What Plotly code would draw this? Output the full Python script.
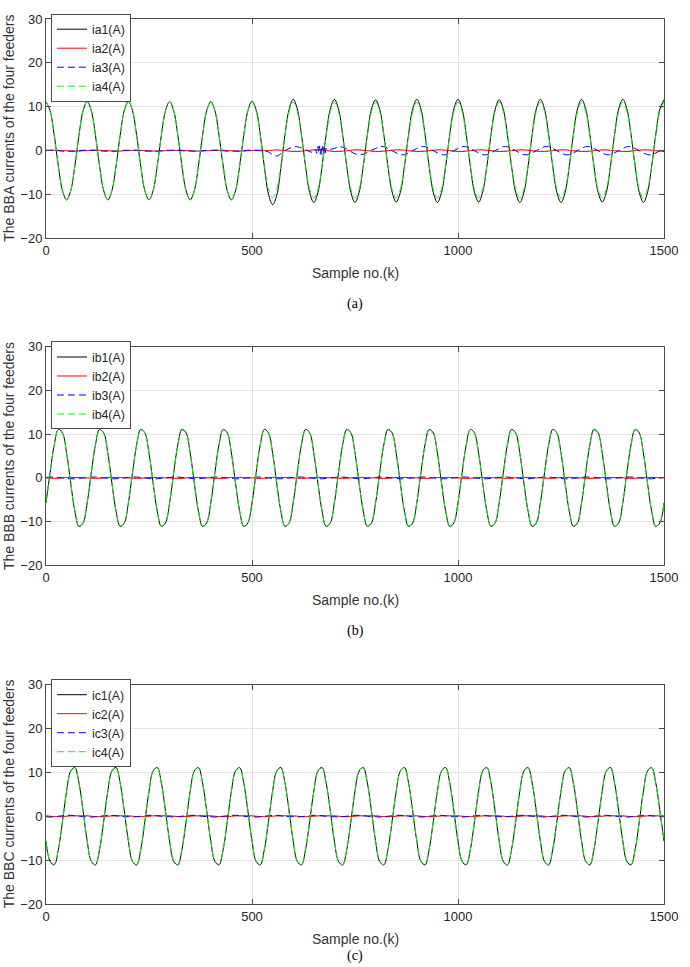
import plotly.graph_objects as go

# sample index (every 10th sample)
sample_k = list(range(0, 1501, 10))

# ---------------- panel (a) : BBA ----------------
ia1 = [
    11.2, 9.1, 3.5, -3.5, -9.1, -11.2, -9.1, -3.5, 3.5, 9.1,
    11.2, 9.1, 3.5, -3.5, -9.1, -11.2, -9.1, -3.5, 3.5, 9.1,
    11.2, 9.1, 3.5, -3.5, -9.1, -11.2, -9.1, -3.5, 3.5, 9.1,
    11.2, 9.1, 3.5, -3.5, -9.1, -11.2, -9.1, -3.5, 3.5, 9.1,
    11.2, 9.1, 3.5, -3.5, -9.1, -11.2, -9.1, -3.5, 3.5, 9.1,
    11.3, 9.3, 3.8, -3.7, -9.9, -12.3, -10.2, -4.0, 3.6, 9.4,
    11.7, 9.5, 3.7, -3.6, -9.5, -11.8, -9.5, -3.6, 3.7, 9.5,
    11.7, 9.5, 3.7, -3.6, -9.5, -11.8, -9.5, -3.6, 3.7, 9.5,
    11.6, 9.4, 3.6, -3.6, -9.4, -11.7, -9.5, -3.6, 3.7, 9.5,
    11.7, 9.5, 3.7, -3.6, -9.5, -11.8, -9.5, -3.6, 3.7, 9.5,
    11.7, 9.5, 3.7, -3.6, -9.5, -11.7, -9.4, -3.6, 3.6, 9.4,
    11.6, 9.4, 3.6, -3.6, -9.5, -11.8, -9.5, -3.6, 3.7, 9.5,
    11.7, 9.5, 3.7, -3.6, -9.5, -11.8, -9.5, -3.6, 3.7, 9.5,
    11.7, 9.5, 3.7, -3.6, -9.4, -11.7, -9.5, -3.6, 3.7, 9.5,
    11.7, 9.5, 3.7, -3.6, -9.5, -11.8, -9.5, -3.6, 3.7, 9.5,
    11.6,
]
ia2 = [
    0.0, 0.1, 0.1, 0.1, 0.0, 0.0, -0.1, -0.1, -0.1, 0.0,
    0.0, 0.1, 0.1, 0.1, 0.0, 0.0, -0.1, -0.1, -0.1, 0.0,
    0.0, 0.1, 0.1, 0.1, 0.0, 0.0, -0.1, -0.1, -0.1, 0.0,
    0.0, 0.1, 0.1, 0.1, 0.0, 0.0, -0.1, -0.1, -0.1, 0.0,
    0.0, 0.1, 0.1, 0.1, 0.0, 0.0, -0.1, -0.1, -0.1, 0.0,
    0.0, 0.1, 0.1, 0.1, 0.0, 0.1, 0.2, 0.1, 0.0, -0.1,
    -0.2, -0.2, -0.1, 0.0, 0.1, 0.2, 0.2, 0.1, 0.0, -0.1,
    -0.2, -0.2, -0.1, 0.0, 0.1, 0.2, 0.2, 0.1, 0.0, -0.1,
    -0.2, -0.2, -0.1, 0.0, 0.1, 0.2, 0.2, 0.1, 0.0, -0.1,
    -0.2, -0.2, -0.1, 0.0, 0.1, 0.2, 0.2, 0.1, 0.0, -0.1,
    -0.2, -0.2, -0.1, 0.0, 0.1, 0.2, 0.2, 0.1, 0.0, -0.1,
    -0.2, -0.2, -0.1, 0.0, 0.1, 0.2, 0.2, 0.1, 0.0, -0.1,
    -0.2, -0.2, -0.1, 0.0, 0.1, 0.2, 0.2, 0.1, 0.0, -0.1,
    -0.2, -0.2, -0.1, 0.0, 0.1, 0.2, 0.2, 0.1, 0.0, -0.1,
    -0.2, -0.2, -0.1, 0.0, 0.1, 0.2, 0.2, 0.1, 0.0, -0.1,
    -0.2,
]
ia3 = [
    0.1, 0.1, 0.1, 0.0, -0.1, -0.1, -0.1, -0.1, 0.0, 0.1,
    0.1, 0.1, 0.1, 0.0, -0.1, -0.1, -0.1, -0.1, 0.0, 0.1,
    0.1, 0.1, 0.1, 0.0, -0.1, -0.1, -0.1, -0.1, 0.0, 0.1,
    0.1, 0.1, 0.1, 0.0, -0.1, -0.1, -0.1, -0.1, 0.0, 0.1,
    0.1, 0.1, 0.1, 0.0, -0.1, -0.1, -0.1, -0.1, 0.0, 0.1,
    0.1, 0.1, 0.0, -0.1, -0.3, -0.9, -1.2, -0.7, 0.0, 0.5,
    0.85, 0.9, 0.6, 0.2, -0.2, -0.4, 0.6, -0.5, 0.4, 0.3,
    0.5, 0.9, 0.8, 0.4, -0.2, -0.7, -0.9, -0.8, -0.4, 0.1,
    0.5, 0.9, 0.9, 0.5, 0.0, -0.5, -0.9, -0.9, -0.5, 0.0,
    0.5, 0.9, 0.9, 0.5, 0.0, -0.5, -0.9, -0.9, -0.5, 0.0,
    0.5, 0.9, 0.9, 0.5, 0.0, -0.5, -0.9, -0.9, -0.5, 0.0,
    0.5, 0.9, 0.9, 0.5, 0.0, -0.5, -0.9, -0.9, -0.5, 0.0,
    0.5, 0.9, 0.9, 0.5, 0.0, -0.5, -0.9, -0.9, -0.5, 0.0,
    0.5, 0.9, 0.9, 0.5, 0.0, -0.5, -0.9, -0.9, -0.5, 0.0,
    0.5, 0.9, 0.9, 0.5, 0.0, -0.5, -0.9, -0.9, -0.5, 0.0,
    0.5,
]
# oscillation burst of ia3 around sample 655-685
burst_k = [655, 657, 660, 662, 664, 666, 668, 670, 672, 674, 676, 678, 680, 683]
burst_ia3 = [0.3, -0.6, 1.0, -0.5, 1.1, -0.8, 0.9, -0.9, 1.0, -0.6, 0.8, -0.5, 0.6, 0.1]
ia4 = [
    11.2, 9.1, 3.5, -3.5, -9.1, -11.2, -9.1, -3.5, 3.5, 9.1,
    11.2, 9.1, 3.5, -3.5, -9.1, -11.2, -9.1, -3.5, 3.5, 9.1,
    11.2, 9.1, 3.5, -3.5, -9.1, -11.2, -9.1, -3.5, 3.5, 9.1,
    11.2, 9.1, 3.5, -3.5, -9.1, -11.2, -9.1, -3.5, 3.5, 9.1,
    11.2, 9.1, 3.5, -3.5, -9.1, -11.2, -9.1, -3.5, 3.5, 9.1,
    11.2, 9.0, 3.4, -3.4, -8.8, -10.7, -8.8, -3.4, 3.4, 8.9,
    11.1, 8.9, 3.4, -3.4, -8.8, -10.8, -8.8, -3.4, 3.4, 8.9,
    11.1, 8.9, 3.4, -3.4, -8.8, -10.8, -8.8, -3.4, 3.4, 8.9,
    11.1, 8.9, 3.4, -3.4, -8.8, -10.8, -8.8, -3.4, 3.4, 8.9,
    11.1, 8.9, 3.4, -3.4, -8.8, -10.8, -8.8, -3.4, 3.4, 8.9,
    11.1, 8.9, 3.4, -3.4, -8.8, -10.8, -8.8, -3.4, 3.4, 8.9,
    11.1, 8.9, 3.4, -3.4, -8.8, -10.8, -8.8, -3.4, 3.4, 8.9,
    11.1, 8.9, 3.4, -3.4, -8.8, -10.8, -8.8, -3.4, 3.4, 8.9,
    11.1, 8.9, 3.4, -3.4, -8.8, -10.8, -8.8, -3.4, 3.4, 8.9,
    11.1, 8.9, 3.4, -3.4, -8.8, -10.8, -8.8, -3.4, 3.4, 8.9,
    11.1,
]

# ---------------- panel (b) : BBB ----------------
ib1 = [
    -5.7, 1.2, 7.6, 11.1, 10.3, 5.7, -1.2, -7.6, -11.1, -10.3,
    -5.7, 1.2, 7.6, 11.1, 10.3, 5.7, -1.2, -7.6, -11.1, -10.3,
    -5.7, 1.2, 7.6, 11.1, 10.3, 5.7, -1.2, -7.6, -11.1, -10.3,
    -5.7, 1.2, 7.6, 11.1, 10.3, 5.7, -1.2, -7.6, -11.1, -10.3,
    -5.7, 1.2, 7.6, 11.1, 10.3, 5.7, -1.2, -7.6, -11.1, -10.3,
    -5.7, 1.2, 7.6, 11.1, 10.3, 5.7, -1.2, -7.6, -11.1, -10.3,
    -5.7, 1.2, 7.6, 11.1, 10.3, 5.7, -1.2, -7.6, -11.1, -10.3,
    -5.7, 1.2, 7.6, 11.1, 10.3, 5.7, -1.2, -7.6, -11.1, -10.3,
    -5.7, 1.2, 7.6, 11.1, 10.3, 5.7, -1.2, -7.6, -11.1, -10.3,
    -5.7, 1.2, 7.6, 11.1, 10.3, 5.7, -1.2, -7.6, -11.1, -10.3,
    -5.7, 1.2, 7.6, 11.1, 10.3, 5.7, -1.2, -7.6, -11.1, -10.3,
    -5.7, 1.2, 7.6, 11.1, 10.3, 5.7, -1.2, -7.6, -11.1, -10.3,
    -5.7, 1.2, 7.6, 11.1, 10.3, 5.7, -1.2, -7.6, -11.1, -10.3,
    -5.7, 1.2, 7.6, 11.1, 10.3, 5.7, -1.2, -7.6, -11.1, -10.3,
    -5.7, 1.2, 7.6, 11.1, 10.3, 5.7, -1.2, -7.6, -11.1, -10.3,
    -5.7,
]
ib2 = [
    0.0, -0.1, -0.1, -0.1, 0.0, 0.1, 0.1, 0.1, 0.1, 0.0,
    0.0, -0.1, -0.1, -0.1, 0.0, 0.1, 0.1, 0.1, 0.1, 0.0,
    0.0, -0.1, -0.1, -0.1, 0.0, 0.1, 0.1, 0.1, 0.1, 0.0,
    0.0, -0.1, -0.1, -0.1, 0.0, 0.1, 0.1, 0.1, 0.1, 0.0,
    0.0, -0.1, -0.1, -0.1, 0.0, 0.1, 0.1, 0.1, 0.1, 0.0,
    0.0, -0.1, -0.1, -0.1, 0.0, 0.1, 0.1, 0.1, 0.1, 0.0,
    0.0, -0.1, -0.1, -0.1, 0.0, 0.1, 0.1, 0.1, 0.1, 0.0,
    0.0, -0.1, -0.1, -0.1, 0.0, 0.1, 0.1, 0.1, 0.1, 0.0,
    0.0, -0.1, -0.1, -0.1, 0.0, 0.1, 0.1, 0.1, 0.1, 0.0,
    0.0, -0.1, -0.1, -0.1, 0.0, 0.1, 0.1, 0.1, 0.1, 0.0,
    0.0, -0.1, -0.1, -0.1, 0.0, 0.1, 0.1, 0.1, 0.1, 0.0,
    0.0, -0.1, -0.1, -0.1, 0.0, 0.1, 0.1, 0.1, 0.1, 0.0,
    0.0, -0.1, -0.1, -0.1, 0.0, 0.1, 0.1, 0.1, 0.1, 0.0,
    0.0, -0.1, -0.1, -0.1, 0.0, 0.1, 0.1, 0.1, 0.1, 0.0,
    0.0, -0.1, -0.1, -0.1, 0.0, 0.1, 0.1, 0.1, 0.1, 0.0,
    0.0,
]
ib3 = [
    0.1, 0.2, 0.2, 0.1, 0.0, -0.1, -0.2, -0.2, -0.1, 0.0,
    0.1, 0.2, 0.2, 0.1, 0.0, -0.1, -0.2, -0.2, -0.1, 0.0,
    0.1, 0.2, 0.2, 0.1, 0.0, -0.1, -0.2, -0.2, -0.1, 0.0,
    0.1, 0.2, 0.2, 0.1, 0.0, -0.1, -0.2, -0.2, -0.1, 0.0,
    0.1, 0.2, 0.2, 0.1, 0.0, -0.1, -0.2, -0.2, -0.1, 0.0,
    0.1, 0.2, 0.2, 0.1, 0.0, -0.1, -0.2, -0.2, -0.1, 0.0,
    0.1, 0.2, 0.2, 0.1, 0.0, -0.1, -0.2, -0.2, -0.1, 0.0,
    0.1, 0.2, 0.2, 0.1, 0.0, -0.1, -0.2, -0.2, -0.1, 0.0,
    0.1, 0.2, 0.2, 0.1, 0.0, -0.1, -0.2, -0.2, -0.1, 0.0,
    0.1, 0.2, 0.2, 0.1, 0.0, -0.1, -0.2, -0.2, -0.1, 0.0,
    0.1, 0.2, 0.2, 0.1, 0.0, -0.1, -0.2, -0.2, -0.1, 0.0,
    0.1, 0.2, 0.2, 0.1, 0.0, -0.1, -0.2, -0.2, -0.1, 0.0,
    0.1, 0.2, 0.2, 0.1, 0.0, -0.1, -0.2, -0.2, -0.1, 0.0,
    0.1, 0.2, 0.2, 0.1, 0.0, -0.1, -0.2, -0.2, -0.1, 0.0,
    0.1, 0.2, 0.2, 0.1, 0.0, -0.1, -0.2, -0.2, -0.1, 0.0,
    0.1,
]
ib4 = [
    -5.6, 1.2, 7.5, 11.0, 10.2, 5.6, -1.2, -7.5, -11.0, -10.2,
    -5.6, 1.2, 7.5, 11.0, 10.2, 5.6, -1.2, -7.5, -11.0, -10.2,
    -5.6, 1.2, 7.5, 11.0, 10.2, 5.6, -1.2, -7.5, -11.0, -10.2,
    -5.6, 1.2, 7.5, 11.0, 10.2, 5.6, -1.2, -7.5, -11.0, -10.2,
    -5.6, 1.2, 7.5, 11.0, 10.2, 5.6, -1.2, -7.5, -11.0, -10.2,
    -5.6, 1.2, 7.5, 11.0, 10.2, 5.6, -1.2, -7.5, -11.0, -10.2,
    -5.6, 1.2, 7.5, 11.0, 10.2, 5.6, -1.2, -7.5, -11.0, -10.2,
    -5.6, 1.2, 7.5, 11.0, 10.2, 5.6, -1.2, -7.5, -11.0, -10.2,
    -5.6, 1.2, 7.5, 11.0, 10.2, 5.6, -1.2, -7.5, -11.0, -10.2,
    -5.6, 1.2, 7.5, 11.0, 10.2, 5.6, -1.2, -7.5, -11.0, -10.2,
    -5.6, 1.2, 7.5, 11.0, 10.2, 5.6, -1.2, -7.5, -11.0, -10.2,
    -5.6, 1.2, 7.5, 11.0, 10.2, 5.6, -1.2, -7.5, -11.0, -10.2,
    -5.6, 1.2, 7.5, 11.0, 10.2, 5.6, -1.2, -7.5, -11.0, -10.2,
    -5.6, 1.2, 7.5, 11.0, 10.2, 5.6, -1.2, -7.5, -11.0, -10.2,
    -5.6, 1.2, 7.5, 11.0, 10.2, 5.6, -1.2, -7.5, -11.0, -10.2,
    -5.6,
]

# ---------------- panel (c) : BBC ----------------
ic1 = [
    -5.7, -10.3, -11.1, -7.6, -1.2, 5.7, 10.3, 11.1, 7.6, 1.2,
    -5.7, -10.3, -11.1, -7.6, -1.2, 5.7, 10.3, 11.1, 7.6, 1.2,
    -5.7, -10.3, -11.1, -7.6, -1.2, 5.7, 10.3, 11.1, 7.6, 1.2,
    -5.7, -10.3, -11.1, -7.6, -1.2, 5.7, 10.3, 11.1, 7.6, 1.2,
    -5.7, -10.3, -11.1, -7.6, -1.2, 5.7, 10.3, 11.1, 7.6, 1.2,
    -5.7, -10.3, -11.1, -7.6, -1.2, 5.7, 10.3, 11.1, 7.6, 1.2,
    -5.7, -10.3, -11.1, -7.6, -1.2, 5.7, 10.3, 11.1, 7.6, 1.2,
    -5.7, -10.3, -11.1, -7.6, -1.2, 5.7, 10.3, 11.1, 7.6, 1.2,
    -5.7, -10.3, -11.1, -7.6, -1.2, 5.7, 10.3, 11.1, 7.6, 1.2,
    -5.7, -10.3, -11.1, -7.6, -1.2, 5.7, 10.3, 11.1, 7.6, 1.2,
    -5.7, -10.3, -11.1, -7.6, -1.2, 5.7, 10.3, 11.1, 7.6, 1.2,
    -5.7, -10.3, -11.1, -7.6, -1.2, 5.7, 10.3, 11.1, 7.6, 1.2,
    -5.7, -10.3, -11.1, -7.6, -1.2, 5.7, 10.3, 11.1, 7.6, 1.2,
    -5.7, -10.3, -11.1, -7.6, -1.2, 5.7, 10.3, 11.1, 7.6, 1.2,
    -5.7, -10.3, -11.1, -7.6, -1.2, 5.7, 10.3, 11.1, 7.6, 1.2,
    -5.7,
]
ic2 = [
    0.1, 0.0, -0.1, -0.1, -0.1, 0.0, 0.1, 0.1, 0.1, 0.1,
    0.1, 0.0, -0.1, -0.1, -0.1, 0.0, 0.1, 0.1, 0.1, 0.1,
    0.1, 0.0, -0.1, -0.1, -0.1, 0.0, 0.1, 0.1, 0.1, 0.1,
    0.1, 0.0, -0.1, -0.1, -0.1, 0.0, 0.1, 0.1, 0.1, 0.1,
    0.1, 0.0, -0.1, -0.1, -0.1, 0.0, 0.1, 0.1, 0.1, 0.1,
    0.1, 0.0, -0.1, -0.1, -0.1, 0.0, 0.1, 0.1, 0.1, 0.1,
    0.1, 0.0, -0.1, -0.1, -0.1, 0.0, 0.1, 0.1, 0.1, 0.1,
    0.1, 0.0, -0.1, -0.1, -0.1, 0.0, 0.1, 0.1, 0.1, 0.1,
    0.1, 0.0, -0.1, -0.1, -0.1, 0.0, 0.1, 0.1, 0.1, 0.1,
    0.1, 0.0, -0.1, -0.1, -0.1, 0.0, 0.1, 0.1, 0.1, 0.1,
    0.1, 0.0, -0.1, -0.1, -0.1, 0.0, 0.1, 0.1, 0.1, 0.1,
    0.1, 0.0, -0.1, -0.1, -0.1, 0.0, 0.1, 0.1, 0.1, 0.1,
    0.1, 0.0, -0.1, -0.1, -0.1, 0.0, 0.1, 0.1, 0.1, 0.1,
    0.1, 0.0, -0.1, -0.1, -0.1, 0.0, 0.1, 0.1, 0.1, 0.1,
    0.1, 0.0, -0.1, -0.1, -0.1, 0.0, 0.1, 0.1, 0.1, 0.1,
    0.1,
]
ic3 = [
    -0.1, -0.2, -0.1, 0.0, 0.1, 0.2, 0.2, 0.1, 0.0, -0.1,
    -0.1, -0.2, -0.1, 0.0, 0.1, 0.2, 0.2, 0.1, 0.0, -0.1,
    -0.1, -0.2, -0.1, 0.0, 0.1, 0.2, 0.2, 0.1, 0.0, -0.1,
    -0.1, -0.2, -0.1, 0.0, 0.1, 0.2, 0.2, 0.1, 0.0, -0.1,
    -0.1, -0.2, -0.1, 0.0, 0.1, 0.2, 0.2, 0.1, 0.0, -0.1,
    -0.1, -0.2, -0.1, 0.0, 0.1, 0.2, 0.2, 0.1, 0.0, -0.1,
    -0.1, -0.2, -0.1, 0.0, 0.1, 0.2, 0.2, 0.1, 0.0, -0.1,
    -0.1, -0.2, -0.1, 0.0, 0.1, 0.2, 0.2, 0.1, 0.0, -0.1,
    -0.1, -0.2, -0.1, 0.0, 0.1, 0.2, 0.2, 0.1, 0.0, -0.1,
    -0.1, -0.2, -0.1, 0.0, 0.1, 0.2, 0.2, 0.1, 0.0, -0.1,
    -0.1, -0.2, -0.1, 0.0, 0.1, 0.2, 0.2, 0.1, 0.0, -0.1,
    -0.1, -0.2, -0.1, 0.0, 0.1, 0.2, 0.2, 0.1, 0.0, -0.1,
    -0.1, -0.2, -0.1, 0.0, 0.1, 0.2, 0.2, 0.1, 0.0, -0.1,
    -0.1, -0.2, -0.1, 0.0, 0.1, 0.2, 0.2, 0.1, 0.0, -0.1,
    -0.1, -0.2, -0.1, 0.0, 0.1, 0.2, 0.2, 0.1, 0.0, -0.1,
    -0.1,
]
ic4 = [
    -5.6, -10.2, -11.0, -7.5, -1.2, 5.6, 10.2, 11.0, 7.5, 1.2,
    -5.6, -10.2, -11.0, -7.5, -1.2, 5.6, 10.2, 11.0, 7.5, 1.2,
    -5.6, -10.2, -11.0, -7.5, -1.2, 5.6, 10.2, 11.0, 7.5, 1.2,
    -5.6, -10.2, -11.0, -7.5, -1.2, 5.6, 10.2, 11.0, 7.5, 1.2,
    -5.6, -10.2, -11.0, -7.5, -1.2, 5.6, 10.2, 11.0, 7.5, 1.2,
    -5.6, -10.2, -11.0, -7.5, -1.2, 5.6, 10.2, 11.0, 7.5, 1.2,
    -5.6, -10.2, -11.0, -7.5, -1.2, 5.6, 10.2, 11.0, 7.5, 1.2,
    -5.6, -10.2, -11.0, -7.5, -1.2, 5.6, 10.2, 11.0, 7.5, 1.2,
    -5.6, -10.2, -11.0, -7.5, -1.2, 5.6, 10.2, 11.0, 7.5, 1.2,
    -5.6, -10.2, -11.0, -7.5, -1.2, 5.6, 10.2, 11.0, 7.5, 1.2,
    -5.6, -10.2, -11.0, -7.5, -1.2, 5.6, 10.2, 11.0, 7.5, 1.2,
    -5.6, -10.2, -11.0, -7.5, -1.2, 5.6, 10.2, 11.0, 7.5, 1.2,
    -5.6, -10.2, -11.0, -7.5, -1.2, 5.6, 10.2, 11.0, 7.5, 1.2,
    -5.6, -10.2, -11.0, -7.5, -1.2, 5.6, 10.2, 11.0, 7.5, 1.2,
    -5.6, -10.2, -11.0, -7.5, -1.2, 5.6, 10.2, 11.0, 7.5, 1.2,
    -5.6,
]

y_titles = ["The BBA currents of the four feeders",
            "The BBB currents of the four feeders",
            "The BBC currents of the four feeders"]
captions = ["(a)", "(b)", "(c)"]
x_title = "Sample no.(k)"
x_ticks = [0, 500, 1000, 1500]
y_ticks = [-20, -10, 0, 10, 20, 30]

# merge the ia3 burst into its series
ia3_pts = dict(zip(sample_k, ia3))
ia3_pts.update(zip(burst_k, burst_ia3))
ia3_k = sorted(ia3_pts)
ia3_v = [ia3_pts[k] for k in ia3_k]

panels = [
    [("ia1(A)", sample_k, ia1), ("ia2(A)", sample_k, ia2), ("ia3(A)", ia3_k, ia3_v), ("ia4(A)", sample_k, ia4)],
    [("ib1(A)", sample_k, ib1), ("ib2(A)", sample_k, ib2), ("ib3(A)", sample_k, ib3), ("ib4(A)", sample_k, ib4)],
    [("ic1(A)", sample_k, ic1), ("ic2(A)", sample_k, ic2), ("ic3(A)", sample_k, ic3), ("ic4(A)", sample_k, ic4)],
]
styles = [
    dict(color="#000000", width=1, dash="solid"),
    dict(color="#ff0000", width=1, dash="solid"),
    dict(color="#0000ff", width=1, dash="7px,4px"),
    dict(color="#00ff00", width=1, dash="7px,4px"),
]

# layout geometry (paper fractions)
domains = [(0.752, 1.0), (0.3827, 0.6296), (0.0, 0.248)]
xtitle_shift = [-35, -35, -35]
caption_shift = [-66, -66, -52]

SANS = "Liberation Sans, Arial, sans-serif"
SERIF = "Liberation Serif, Times New Roman, serif"
AX = "#4a4a4a"
TXT = "#262626"

fig = go.Figure()
legend_names = ["legend", "legend2", "legend3"]
for p, series in enumerate(panels):
    xa = "x" if p == 0 else f"x{p+1}"
    ya = "y" if p == 0 else f"y{p+1}"
    for (name, kx, vals), st in zip(series, styles):
        fig.add_trace(go.Scatter(
            x=kx, y=vals, name=name, mode="lines",
            line=dict(color=st["color"], width=st["width"], dash=st["dash"],
                      shape="spline", smoothing=1.0),
            xaxis=xa, yaxis=ya, legend=legend_names[p],
        ))

layout = dict(
    width=690, height=967,
    margin=dict(l=46, r=15, t=13, b=63),
    paper_bgcolor="white", plot_bgcolor="white",
    font=dict(family=SANS, size=13, color=TXT),
    showlegend=True,
)
annotations = []
for p in range(3):
    xk = "xaxis" if p == 0 else f"xaxis{p+1}"
    yk = "yaxis" if p == 0 else f"yaxis{p+1}"
    ya = "y" if p == 0 else f"y{p+1}"
    y0, y1 = domains[p]
    layout[xk] = dict(
        domain=[0, 1], anchor=ya, range=[0, 1500], tickvals=x_ticks,
        ticks="inside", ticklen=5, tickcolor=AX, showline=True, linecolor=AX,
        linewidth=1, mirror="ticks", showgrid=True, gridcolor="#e3e3e3",
        gridwidth=1, zeroline=False, tickfont=dict(size=13, color=TXT),
    )
    layout[yk] = dict(
        domain=[y0, y1], anchor="x" if p == 0 else f"x{p+1}", range=[-20, 30],
        tickvals=y_ticks, ticks="inside", ticklen=5, tickcolor=AX,
        showline=True, linecolor=AX, linewidth=1, mirror="ticks",
        showgrid=True, gridcolor="#e3e3e3", gridwidth=1, zeroline=False,
        tickfont=dict(size=13, color=TXT),
    )
    layout[legend_names[p]] = dict(
        x=0.008, y=y1 + 0.006, xref="paper", yref="paper",
        xanchor="left", yanchor="top",
        bgcolor="white", bordercolor=AX, borderwidth=1,
        font=dict(family=SANS, size=12.3, color=TXT),
        tracegroupgap=0, itemwidth=30,
    )
    annotations.append(dict(
        text=y_titles[p], xref="paper", yref="paper", x=0, y=(y0 + y1) / 2,
        xshift=-37, textangle=-90, showarrow=False,
        font=dict(family=SANS, size=14, color="#333333"),
        xanchor="center", yanchor="middle",
    ))
    annotations.append(dict(
        text=x_title, xref="paper", yref="paper", x=0.5, y=y0,
        yshift=xtitle_shift[p], showarrow=False,
        font=dict(family=SANS, size=14, color="#333333"),
        xanchor="center", yanchor="middle",
    ))
    annotations.append(dict(
        text=captions[p], xref="paper", yref="paper", x=0.5, y=y0,
        yshift=caption_shift[p], showarrow=False,
        font=dict(family=SERIF, size=14, color="#000000"),
        xanchor="center", yanchor="middle",
    ))
layout["annotations"] = annotations
fig.update_layout(**layout)

fig.write_html("out.html")
